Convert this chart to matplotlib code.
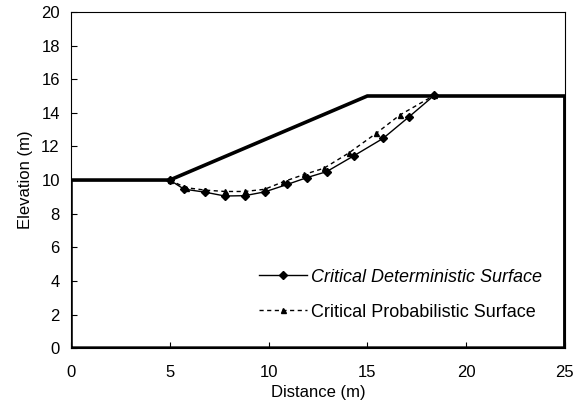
"""Critical slip surfaces for a simple slope"""

import matplotlib
matplotlib.use("Agg")
from matplotlib import pyplot as plt

# Slope geometry (closed outline)
slope_x = [0, 0, 5, 15, 25, 25, 0]
slope_y = [0, 10, 10, 15, 15, 0, 0]

# Critical deterministic surface
det_x = [5, 5.72, 6.78, 7.79, 8.8, 9.82, 10.95, 11.93, 12.94, 14.33, 15.8, 17.1, 18.4]
det_y = [10, 9.46, 9.28, 9.05, 9.07, 9.3, 9.74, 10.14, 10.5, 11.45, 12.48, 13.75, 15.05]

# Critical probabilistic surface
prob_x = [5, 5.8, 6.8, 7.8, 8.8, 9.8, 10.75, 11.8, 12.8, 14.05, 15.45, 16.65, 18.4]
prob_y = [10, 9.55, 9.4, 9.32, 9.32, 9.45, 9.9, 10.33, 10.7, 11.6, 12.78, 13.87, 15.05]

x_ticks = [0, 5, 10, 15, 20, 25]
y_ticks = [0, 2, 4, 6, 8, 10, 12, 14, 16, 18, 20]

plt.rcParams["font.family"] = ["Liberation Sans", "DejaVu Sans"]
fig = plt.figure(figsize=(5.77, 4.12), dpi=100)
ax = fig.add_axes([0.123, 0.155, 0.856, 0.816])

ax.plot(slope_x, slope_y, color="black", lw=2.6, solid_joinstyle="miter", zorder=3)
ax.plot(det_x, det_y, color="black", lw=1.0, marker="D", ms=3.6,
        label="Critical Deterministic Surface", zorder=4)
ax.plot(prob_x, prob_y, color="black", lw=1.0, ls=(0, (3, 2.5)), marker="^", ms=3.6,
        label="Critical Probabilistic Surface", zorder=4)

ax.set_xlim(0, 25)
ax.set_ylim(0, 20)
ax.set_xticks(x_ticks)
ax.set_yticks(y_ticks)
ax.tick_params(axis="both", direction="in", length=4, width=0.8,
               labelsize=12, top=False, right=False)
ax.tick_params(axis="x", pad=12)
ax.tick_params(axis="y", pad=8)
for side in ax.spines.values():
    side.set_linewidth(0.8)

ax.set_xlabel("Distance (m)", fontsize=12, labelpad=4)
ax.set_ylabel("Elevation (m)", fontsize=12, labelpad=6)

leg = ax.legend(loc="center left", bbox_to_anchor=(0.38, 0.159), frameon=False,
                fontsize=13, handlelength=2.7, handletextpad=0.2,
                labelspacing=1.0, borderpad=0, borderaxespad=0)
leg.get_texts()[0].set_style("italic")

fig.savefig("out.png", dpi=100)
